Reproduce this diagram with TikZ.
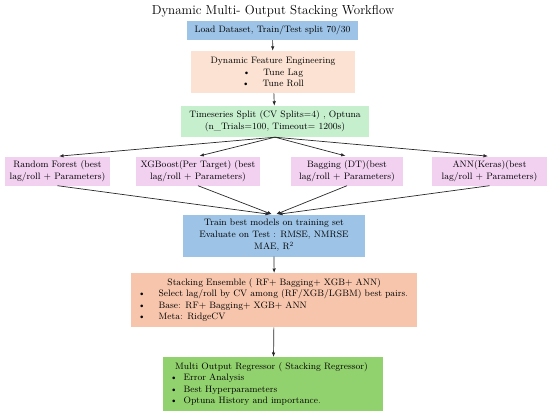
\documentclass[tikz,border=0pt]{standalone}
\usetikzlibrary{arrows.meta}
\definecolor{cblue}{RGB}{157,195,230}
\definecolor{cpeachL}{RGB}{251,226,210}
\definecolor{cpeach}{RGB}{246,197,172}
\definecolor{cgreenL}{RGB}{198,239,206}
\definecolor{cpink}{RGB}{241,208,240}
\definecolor{cgreen}{RGB}{146,210,110}
\definecolor{cline}{RGB}{40,40,40}
\begin{document}
\begin{tikzpicture}[x=1pt,y=-1pt,
  font=\fontsize{9.3}{12}\selectfont,
  box/.style={inner sep=0pt, align=center, anchor=center},
  arr/.style={draw=cline, line width=0.7pt, -{Latex[length=4.5pt,width=3.5pt]}},
  lbox/.style={inner xsep=7pt, inner ysep=3pt, align=left, anchor=north west,
    font=\fontsize{9.3}{11.5}\selectfont}]
\useasboundingbox (0,0) rectangle (550,418);

\node[font=\fontsize{13}{15}\selectfont] (title) at (273,11) {Dynamic Multi- Output Stacking Workflow};

\node[box, fill=cblue, minimum width=171pt, minimum height=19pt] (load) at (272.5,30.5)
  {Load Dataset, Train/Test split 70/30};

\node[box, fill=cpeachL, minimum width=164pt, minimum height=42pt, font=\fontsize{9.3}{11.5}\selectfont] (dfe) at (273,72)
  {Dynamic Feature Engineering\\ \textbullet\hspace{13pt}Tune Lag\\ \textbullet\hspace{13pt}Tune Roll};

\node[box, fill=cgreenL, minimum width=188pt, minimum height=31pt] (ts) at (275,121.5)
  {Timeseries Split (CV Splits=4) , Optuna\\ (n\_Trials=100, Timeout= 1200s)};

\node[box, fill=cpink, minimum width=105pt, minimum height=29pt] (rf) at (57.5,171)
  {Random Forest (best\\ lag/roll + Parameters)};
\node[box, fill=cpink, minimum width=124pt, minimum height=29pt] (xgb) at (198,171)
  {XGBoost(Per Target) (best\\ lag/roll + Parameters)};
\node[box, fill=cpink, minimum width=112pt, minimum height=29pt] (bag) at (347,171)
  {Bagging (DT)(best\\ lag/roll + Parameters)};
\node[box, fill=cpink, minimum width=115pt, minimum height=29pt] (ann) at (489.5,171)
  {ANN(Keras)(best\\ lag/roll + Parameters)};

\node[box, fill=cblue, minimum width=182pt, minimum height=42pt] (train) at (274,235.5)
  {Train best models on training set\\ Evaluate on Test : RMSE, NMRSE\\ MAE, R\textsuperscript{2}};

\node[lbox, fill=cpeach, text width=272pt, minimum height=54pt] (stack) at (131,273)
  {\makebox[\linewidth][c]{Stacking Ensemble ( RF+ Bagging+ XGB+ ANN)}\\
   \textbullet\hspace{13pt}Select lag/roll by CV among (RF/XGB/LGBM) best pairs.\\
   \textbullet\hspace{13pt}Base: RF+ Bagging+ XGB+ ANN\\
   \textbullet\hspace{13pt}Meta: RidgeCV};

\node[lbox, fill=cgreen, text width=206pt, minimum height=54pt] (final) at (163,357)
  {\hspace*{5pt}Multi Output Regressor ( Stacking Regressor)\\
   \textbullet\hspace{6pt}Error Analysis\\
   \textbullet\hspace{6pt}Best Hyperparameters\\
   \textbullet\hspace{6pt}Optuna History and importance.};

\draw[arr] (load) -- (dfe);
\draw[arr] (dfe) -- (ts);
\foreach \b in {rf,xgb,bag,ann}
  \draw[arr, shorten >=1.5pt] (ts.south) -- (\b.north);
\draw[arr] (rf.south) -- ([xshift=-4pt]train.north);
\draw[arr] (xgb.south) -- ([xshift=-2pt]train.north);
\draw[arr] (bag.south) -- ([xshift=2pt]train.north);
\draw[arr] (ann.south) -- ([xshift=4pt]train.north);
\draw[arr] (train) -- (stack);
\draw[arr] (stack) -- (final);
\end{tikzpicture}
\end{document}
